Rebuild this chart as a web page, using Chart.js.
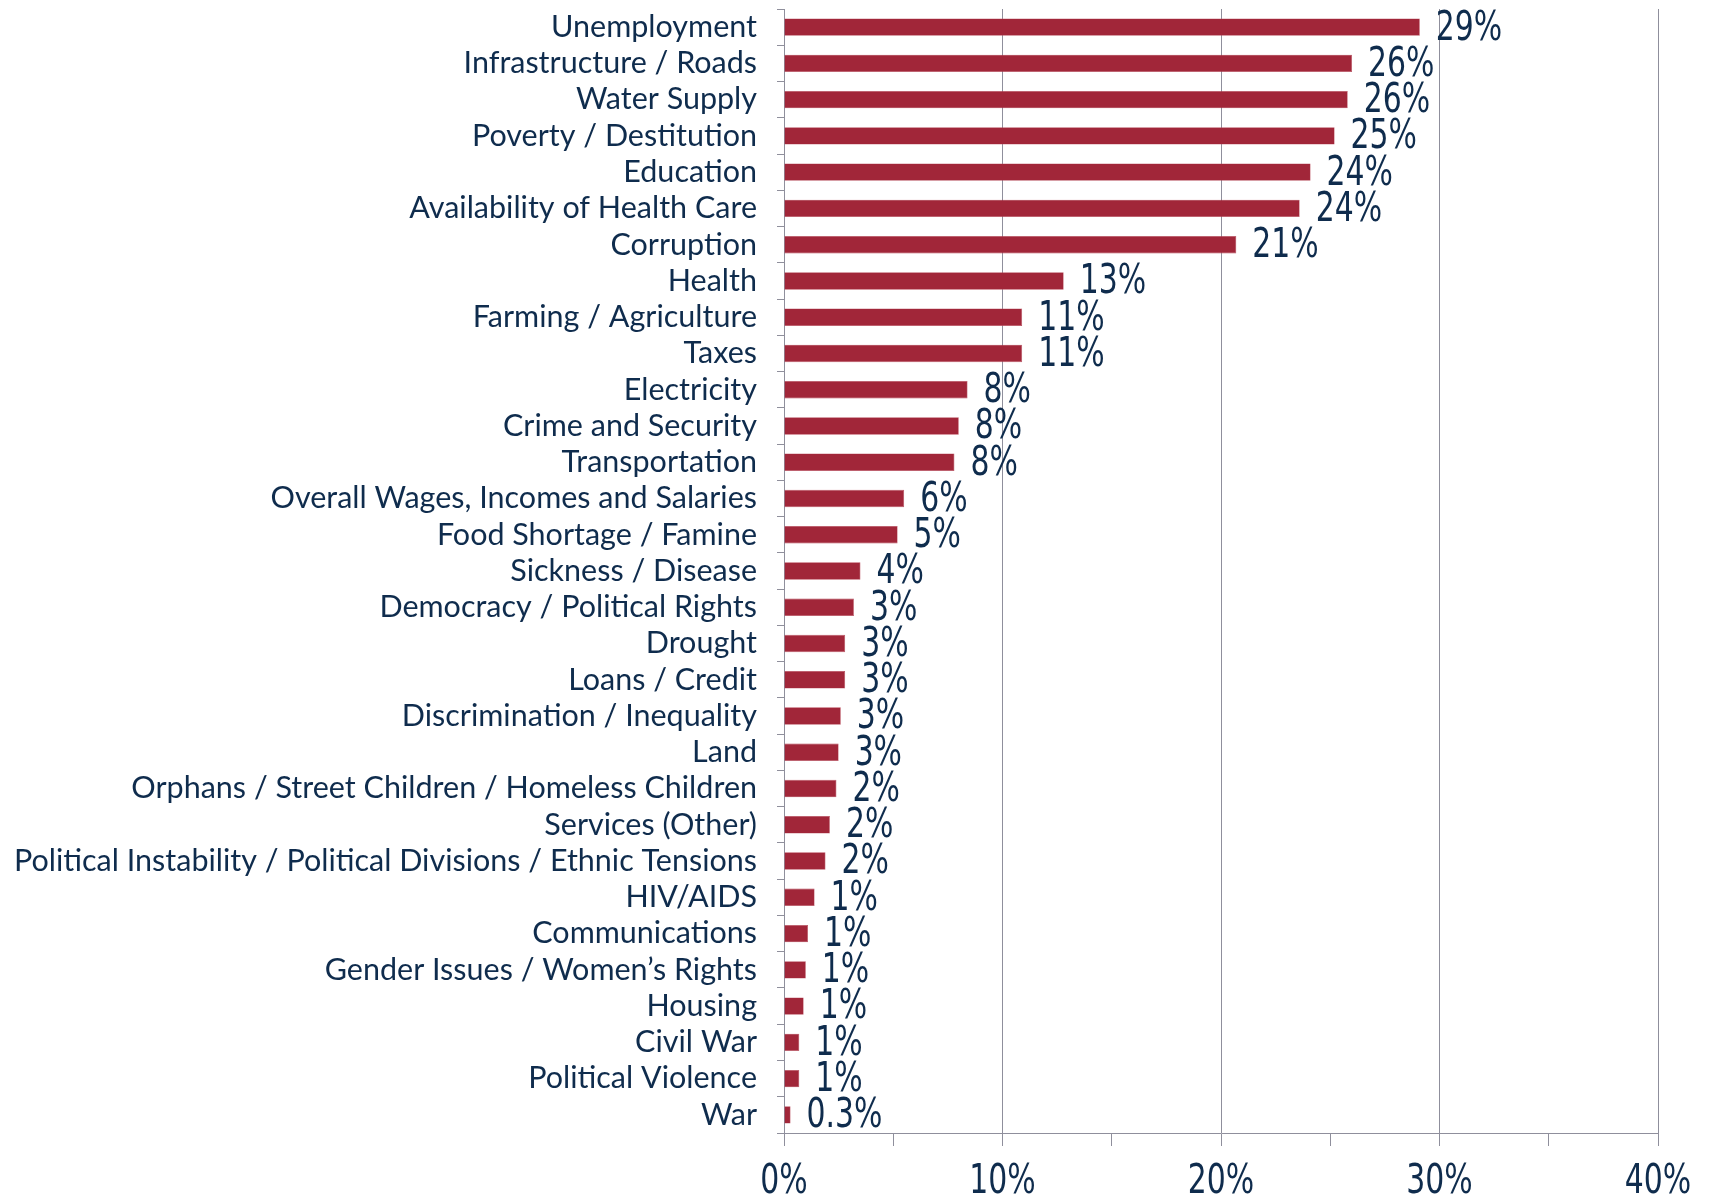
<!DOCTYPE html>
<html>
<head>
<meta charset="utf-8">
<script src="https://cdn.jsdelivr.net/npm/chart.js@4.4.1/dist/chart.umd.min.js"></script>
<style>
  html, body { margin: 0; padding: 0; background: #fff; overflow: hidden; }
  canvas { display: block; }
</style>
</head>
<body>
<canvas id="issuesChart" width="1709" height="1202"></canvas>
<script>
// Categories (top to bottom)
const categories = [
  'Unemployment', 'Infrastructure / Roads', 'Water Supply', 'Poverty / Destitution',
  'Education', 'Availability of Health Care', 'Corruption', 'Health',
  'Farming / Agriculture', 'Taxes', 'Electricity', 'Crime and Security',
  'Transportation', 'Overall Wages, Incomes and Salaries', 'Food Shortage / Famine',
  'Sickness / Disease', 'Democracy / Political Rights', 'Drought', 'Loans / Credit',
  'Discrimination / Inequality', 'Land', 'Orphans / Street Children / Homeless Children',
  'Services (Other)', 'Political Instability / Political Divisions / Ethnic Tensions',
  'HIV/AIDS', 'Communications', 'Gender Issues / Women\u2019s Rights', 'Housing',
  'Civil War', 'Political Violence', 'War'
];

// Share of respondents (%)
const values = [
  29.1, 26.0, 25.8, 25.2, 24.1, 23.6, 20.7, 12.8,
  10.9, 10.9, 8.4, 8.0, 7.8, 5.5, 5.2,
  3.5, 3.2, 2.8, 2.8, 2.6, 2.5, 2.4,
  2.1, 1.9, 1.4, 1.1, 1.0, 0.9, 0.7, 0.7, 0.3
];

// Labels printed next to the bars
const valueLabels = [
  '29%', '26%', '26%', '25%', '24%', '24%', '21%', '13%',
  '11%', '11%', '8%', '8%', '8%', '6%', '5%',
  '4%', '3%', '3%', '3%', '3%', '3%', '2%',
  '2%', '2%', '1%', '1%', '1%', '1%', '1%', '1%', '0.3%'
];

// x axis: 0..40 with a tick every 5, labels every 10
const xMin = 0;
const xMax = 40;
const xStep = 5;
const xLabelValues = [0, 10, 20, 30, 40];

const navy = '#0f2c4d';
const barRed = '#a12639';
const gridGray = '#8f8f9c';
const labelFont = 'Lato, "Open Sans", sans-serif';
const numFont = '"DejaVu Sans Condensed", "DejaVu Sans", sans-serif';
const squeeze = 0.83; // narrow the numbers a bit, like the original typeface

function drawNarrow(ctx, text, x, y, align) {
  ctx.save();
  ctx.translate(x, y);
  ctx.scale(squeeze, 1);
  ctx.textAlign = align;
  ctx.fillText(text, 0, 0);
  ctx.restore();
}

// value labels right of bars + percent labels under the x axis
const numberLabels = {
  id: 'numberLabels',
  afterDatasetsDraw(chart) {
    const ctx = chart.ctx;
    const meta = chart.getDatasetMeta(0);
    const xs = chart.scales.x;
    ctx.save();
    ctx.fillStyle = navy;
    ctx.font = '40px ' + numFont;
    ctx.textBaseline = 'middle';
    meta.data.forEach((bar, i) => {
      drawNarrow(ctx, valueLabels[i], bar.x + 16, bar.y + 2, 'left');
    });
    xLabelValues.forEach((v) => {
      drawNarrow(ctx, v + '%', xs.getPixelForValue(v), xs.top + 50, 'center');
    });
    ctx.restore();
  }
};

const ctx = document.getElementById('issuesChart').getContext('2d');
const issuesChart = new Chart(ctx, {
  type: 'bar',
  data: {
    labels: categories,
    datasets: [{
      data: values,
      backgroundColor: barRed,
      borderColor: '#b84a5a',
      borderWidth: 0.6,
      barPercentage: 0.48,
      categoryPercentage: 1.0
    }]
  },
  options: {
    indexAxis: 'y',
    responsive: false,
    animation: false,
    devicePixelRatio: 1,
    layout: { padding: { top: 9, right: 51, bottom: 0, left: 0 } },
    plugins: {
      legend: { display: false },
      tooltip: { enabled: false }
    },
    scales: {
      x: {
        min: xMin,
        max: xMax,
        afterFit(scale) {
          scale.height = 69;
          scale.paddingLeft = 0;
          scale.paddingRight = 0;
        },
        border: { color: gridGray, width: 1 },
        grid: {
          color: (c) => (c.tick && c.tick.value % 10 === 0 ? gridGray : 'rgba(0,0,0,0)'),
          tickColor: gridGray,
          tickLength: 13,
          lineWidth: 1
        },
        ticks: {
          stepSize: xStep,
          autoSkip: false,
          maxRotation: 0,
          color: 'rgba(0,0,0,0)',
          font: { size: 12 },
          callback: () => ''
        }
      },
      y: {
        afterFit(scale) {
          scale.width = 784;
          scale.paddingTop = 0;
          scale.paddingBottom = 0;
        },
        border: { color: gridGray, width: 1 },
        grid: {
          drawOnChartArea: false,
          offset: true,
          tickColor: gridGray,
          tickLength: 7
        },
        ticks: {
          autoSkip: false,
          padding: 20,
          color: navy,
          font: { family: labelFont, size: 30.5 }
        }
      }
    }
  },
  plugins: [numberLabels]
});
</script>
</body>
</html>
